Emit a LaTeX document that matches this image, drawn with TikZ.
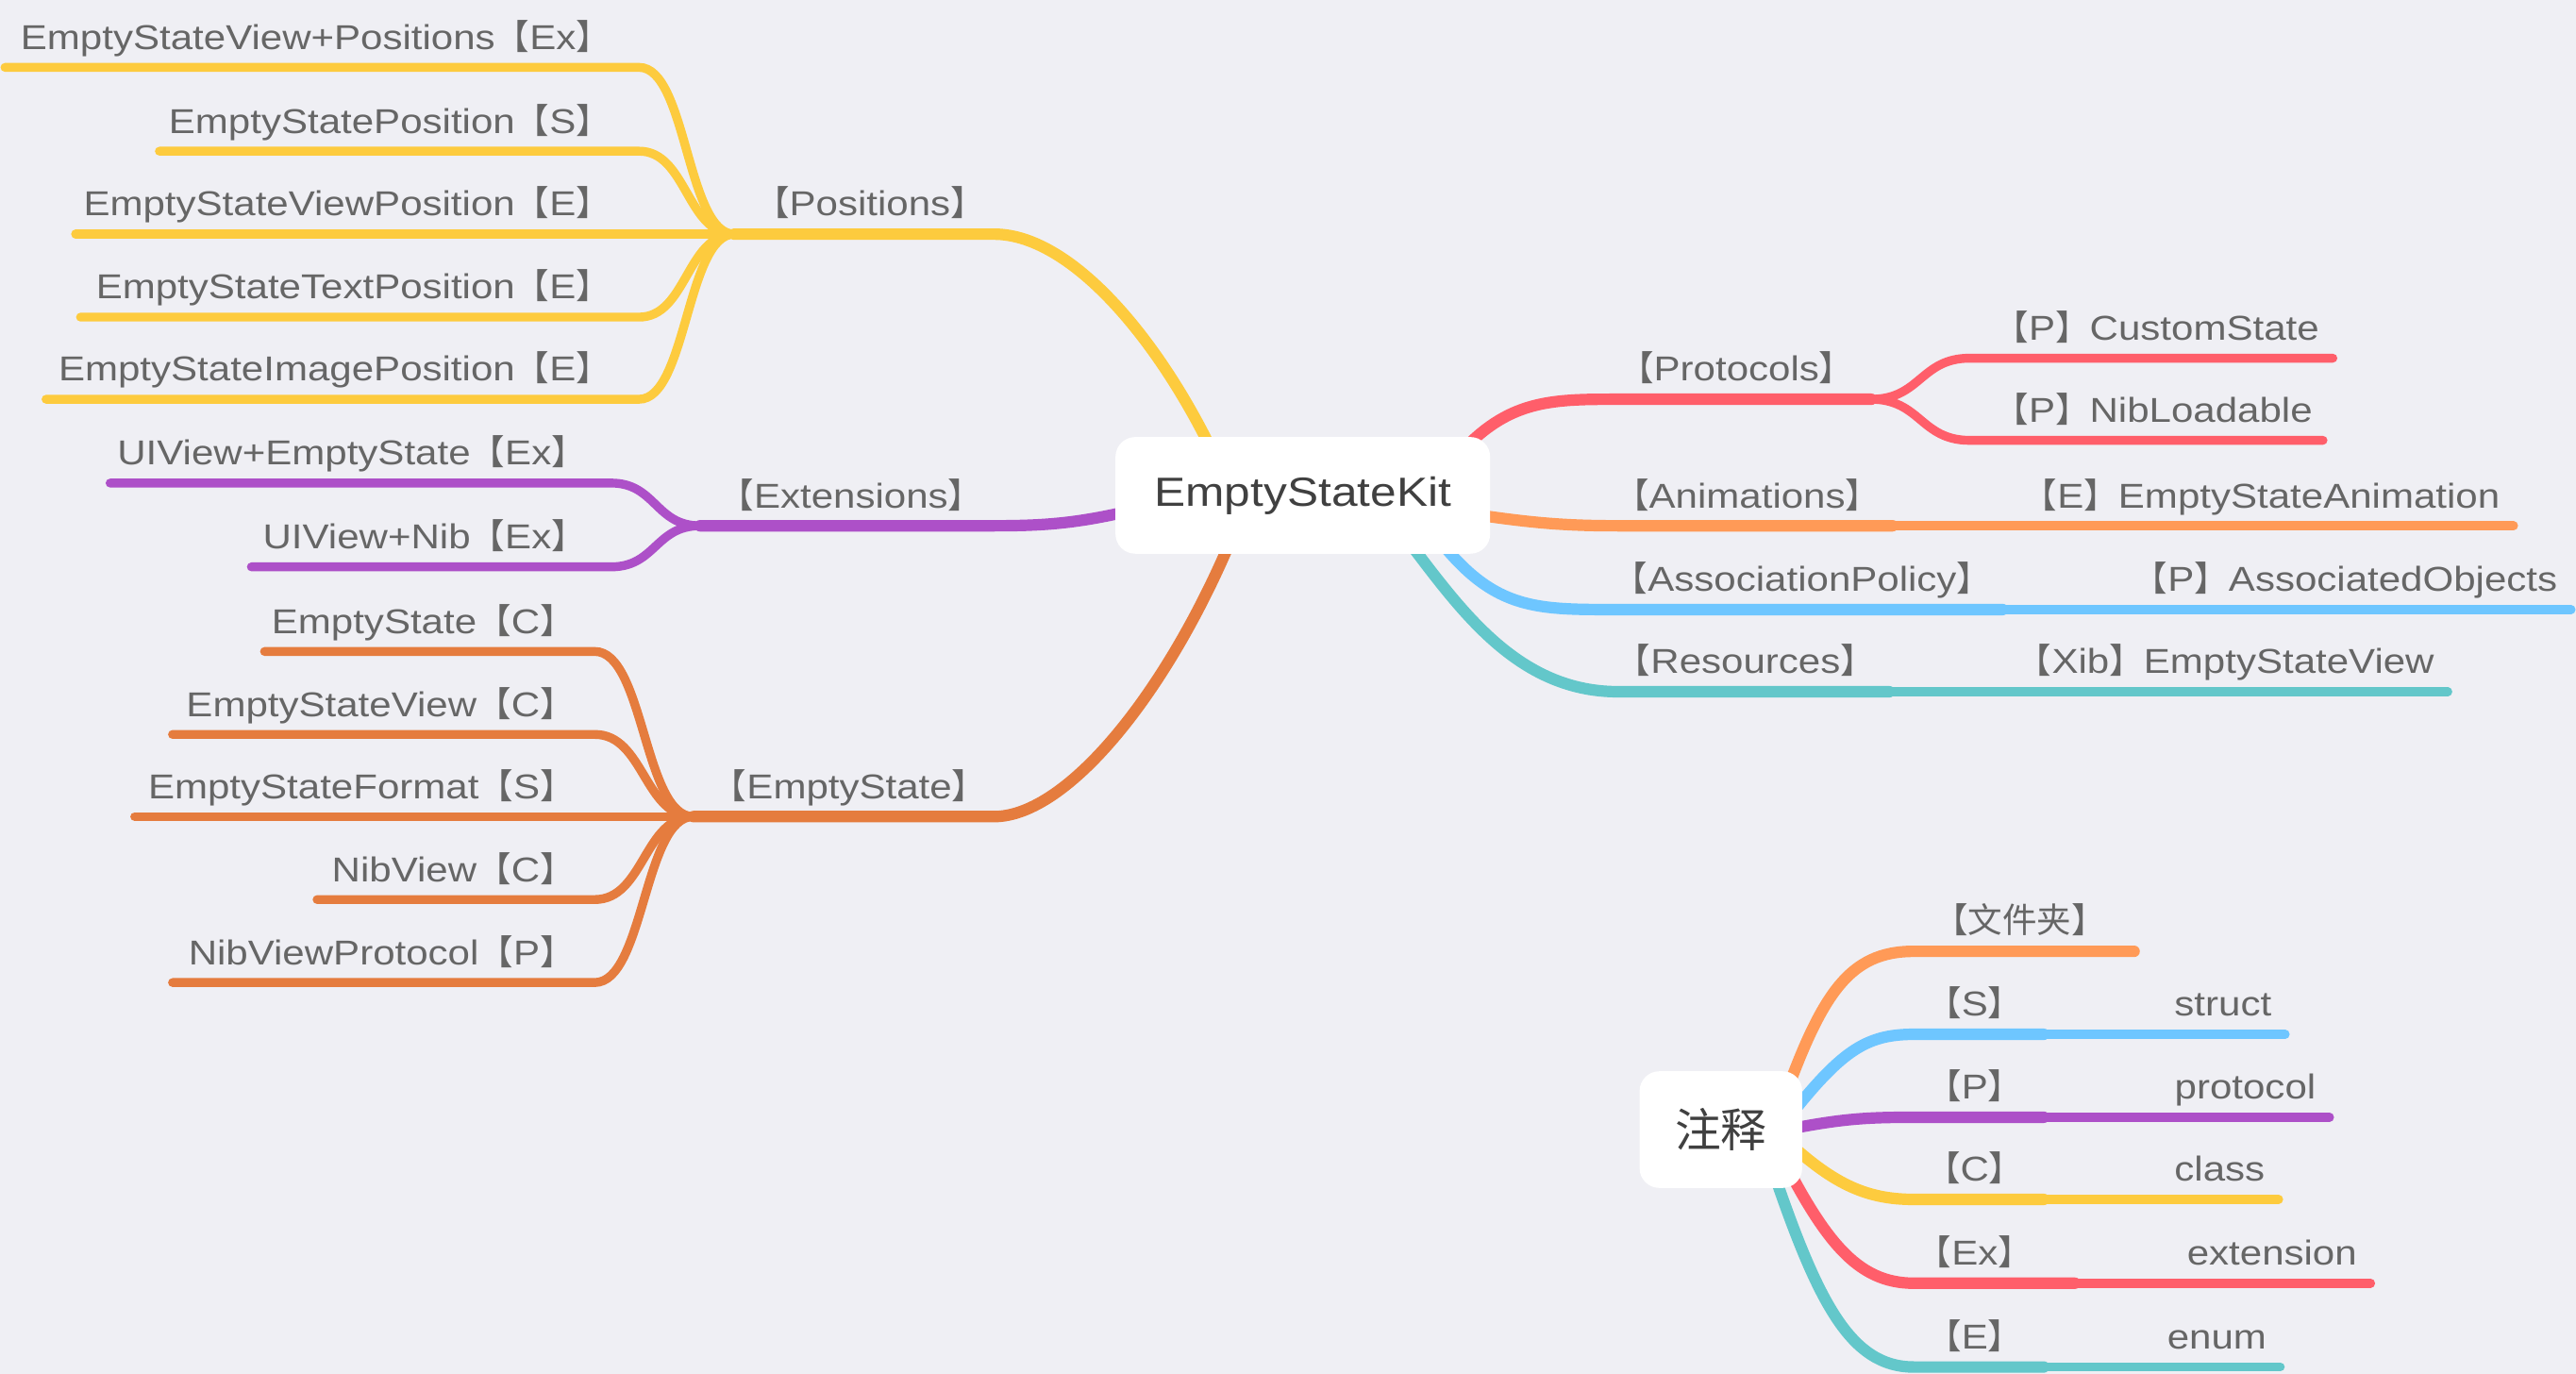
\documentclass[tikz,border=0pt]{standalone}
\usepackage{fontspec}
\setmainfont{Liberation Sans}[FakeStretch=1.15]
\newfontfamily\cjk{Noto Sans CJK SC}
\newcommand{\lbk}{{\cjk 【}}
\newcommand{\rbk}{{\cjk 】}}
\definecolor{bgc}{RGB}{239,239,244}
\definecolor{labgray}{RGB}{102,102,102}
\definecolor{maingray}{RGB}{64,64,64}
\definecolor{cY}{RGB}{253,203,62}
\definecolor{cPu}{RGB}{173,80,200}
\definecolor{cO}{RGB}{229,124,62}
\definecolor{cR}{RGB}{255,94,106}
\definecolor{cLO}{RGB}{255,154,87}
\definecolor{cB}{RGB}{110,198,255}
\definecolor{cT}{RGB}{99,199,202}
\pgfdeclarelayer{backlayer}
\pgfdeclarelayer{linelayer}
\pgfsetlayers{backlayer,linelayer,main}
\begin{document}
\begin{tikzpicture}[x=0.5pt,y=-0.5pt,
  lab/.style={font=\fontsize{10.5}{12}\selectfont, text=labgray, inner sep=0pt},
  childline/.style={line width=2.7pt, line cap=round},
  parentline/.style={line width=3.5pt, line cap=round},
  topic/.style={fill=white, rounded corners=6pt, inner sep=0pt, text=maingray}]
\begin{pgfonlayer}{backlayer}
\fill[bgc] (0,0) rectangle (1568,836);
\end{pgfonlayer}
\useasboundingbox (0,0) rectangle (1568,836);

% central topics
\node[topic, minimum width=114pt, minimum height=35.5pt, font=\fontsize{12.4}{14}\selectfont] (kit) at (793,301.5) {EmptyStateKit};
\node[topic, minimum width=49.5pt, minimum height=35.5pt, font=\fontsize{14}{16}\selectfont\cjk] (note) at (1047.5,687.5) {注释};

% coordinates
\coordinate (Ys) at (745,290); \coordinate (Yf) at (447,142.5);
\coordinate (Ps) at (700,308); \coordinate (Pf) at (426,320);
\coordinate (Os) at (752,322); \coordinate (Of) at (422,497);
\coordinate (Rs) at (885,280); \coordinate (Rf) at (1139,243);
\coordinate (As) at (890,312); \coordinate (Af) at (1152,320);
\coordinate (Bs) at (868,318); \coordinate (Bf) at (1219,371);
\coordinate (Ts) at (850,320); \coordinate (Tf) at (1150,421);

% labels left yellow
\node[lab, anchor=base east] (y1) at (372,30) {EmptyStateView+Positions\lbk Ex\rbk};
\node[lab, anchor=base east] (y2) at (372,81) {EmptyStatePosition\lbk S\rbk};
\node[lab, anchor=base east] (y3) at (372,131.5) {EmptyStateViewPosition\lbk E\rbk};
\node[lab, anchor=base east] (y4) at (372,182) {EmptyStateTextPosition\lbk E\rbk};
\node[lab, anchor=base east] (y5) at (372,232) {EmptyStateImagePosition\lbk E\rbk};
\node[lab, anchor=base] (lPos) at (529.5,131.5) {\lbk Positions\rbk};
% purple
\node[lab, anchor=base east] (p1) at (357,283) {UIView+EmptyState\lbk Ex\rbk};
\node[lab, anchor=base east] (p2) at (357,334) {UIView+Nib\lbk Ex\rbk};
\node[lab, anchor=base] (lExt) at (518,309) {\lbk Extensions\rbk};
% orange
\node[lab, anchor=base east] (o1) at (350,385.5) {EmptyState\lbk C\rbk};
\node[lab, anchor=base east] (o2) at (350,436) {EmptyStateView\lbk C\rbk};
\node[lab, anchor=base east] (o3) at (350,486) {EmptyStateFormat\lbk S\rbk};
\node[lab, anchor=base east] (o4) at (350,536.5) {NibView\lbk C\rbk};
\node[lab, anchor=base east] (o5) at (350,587) {NibViewProtocol\lbk P\rbk};
\node[lab, anchor=base] (lES) at (517,486) {\lbk EmptyState\rbk};
% right
\node[lab, anchor=base] (lPro) at (1057,232) {\lbk Protocols\rbk};
\node[lab, anchor=base east] (r1) at (1412,207) {\lbk P\rbk CustomState};
\node[lab, anchor=base east] (r2) at (1408,257) {\lbk P\rbk NibLoadable};
\node[lab, anchor=base] (lAni) at (1063.5,309) {\lbk Animations\rbk};
\node[lab, anchor=base east] (a1) at (1522,309) {\lbk E\rbk EmptyStateAnimation};
\node[lab, anchor=base] (lAss) at (1097,360) {\lbk AssociationPolicy\rbk};
\node[lab, anchor=base east] (b1) at (1557,360) {\lbk P\rbk AssociatedObjects};
\node[lab, anchor=base] (lRes) at (1062.5,410) {\lbk Resources\rbk};
\node[lab, anchor=base east] (t1) at (1482,410) {\lbk Xib\rbk EmptyStateView};
% legend
\node[lab, anchor=base] (nF) at (1229.5,568) {\lbk{\cjk 文件夹}\rbk};
\node[lab, anchor=base] (nS) at (1202,618.5) {\lbk S\rbk};
\node[lab, anchor=base east] (nS2) at (1383,618.5) {struct};
\node[lab, anchor=base] (nP) at (1202,669) {\lbk P\rbk};
\node[lab, anchor=base east] (nP2) at (1410,669) {protocol};
\node[lab, anchor=base] (nC) at (1202,719) {\lbk C\rbk};
\node[lab, anchor=base east] (nC2) at (1379,719) {class};
\node[lab, anchor=base] (nX) at (1202,770) {\lbk Ex\rbk};
\node[lab, anchor=base east] (nX2) at (1435,770) {extension};
\node[lab, anchor=base] (nE) at (1202,821) {\lbk E\rbk};
\node[lab, anchor=base east] (nE2) at (1380,821) {enum};

\begin{pgfonlayer}{linelayer}
% yellow
\draw[parentline, cY] (Ys) .. controls (712,215) and (655,142.5) .. (605,142.5) -- (Yf);
\draw[childline, cY] (Yf) .. controls (418,142.5) and (418,41) .. (389,41) -- (3,41);
\draw[childline, cY] (Yf) .. controls (418,142.5) and (418,92) .. (389,92) -- (97,92);
\draw[childline, cY] (Yf) -- (46,142.5);
\draw[childline, cY] (Yf) .. controls (418,142.5) and (418,193) .. (389,193) -- (49,193);
\draw[childline, cY] (Yf) .. controls (418,142.5) and (418,243) .. (389,243) -- (28,243);
% purple
\draw[parentline, cPu] (Ps) .. controls (660,318) and (640,320) .. (605,320) -- (Pf);
\draw[childline, cPu] (Pf) .. controls (399,320) and (399,294) .. (372,294) -- (67,294);
\draw[childline, cPu] (Pf) .. controls (399,320) and (399,345) .. (372,345) -- (153,345);
% orange
\draw[parentline, cO] (Os) .. controls (712,420) and (650,497) .. (605,497) -- (Of);
\draw[childline, cO] (Of) .. controls (392,497) and (392,396.5) .. (362,396.5) -- (161,396.5);
\draw[childline, cO] (Of) .. controls (392,497) and (392,447) .. (362,447) -- (105,447);
\draw[childline, cO] (Of) -- (82,497);
\draw[childline, cO] (Of) .. controls (392,497) and (392,547.5) .. (362,547.5) -- (193,547.5);
\draw[childline, cO] (Of) .. controls (392,497) and (392,598) .. (362,598) -- (105,598);
% red
\draw[parentline, cR] (Rs) .. controls (915,245) and (940,243) .. (980,243) -- (Rf);
\draw[childline, cR] (Rf) .. controls (1169,243) and (1169,218) .. (1199,218) -- (1420,218);
\draw[childline, cR] (Rf) .. controls (1169,243) and (1169,268) .. (1199,268) -- (1414,268);
% light orange
\draw[parentline, cLO] (As) .. controls (930,318) and (950,320) .. (985,320) -- (Af);
\draw[childline, cLO] (Af) -- (1530,320);
% blue
\draw[parentline, cB] (Bs) .. controls (905,370) and (930,371) .. (980,371) -- (Bf);
\draw[childline, cB] (Bf) -- (1565,371);
% teal
\draw[parentline, cT] (Ts) .. controls (885,365) and (920,421) .. (985,421) -- (Tf);
\draw[childline, cT] (Tf) -- (1490,421);
% legend
\draw[parentline, cLO] (1082,680) .. controls (1108,605) and (1125,579) .. (1165,579) -- (1299,579);
\draw[parentline, cB] (1085,685) .. controls (1120,640) and (1135,629.5) .. (1165,629.5) -- (1244,629.5);
\draw[childline, cB] (1244,629.5) -- (1391,629.5);
\draw[parentline, cPu] (1085,688) .. controls (1120,681) and (1135,680) .. (1165,680) -- (1244,680);
\draw[childline, cPu] (1244,680) -- (1418,680);
\draw[parentline, cY] (1085,692) .. controls (1115,720) and (1135,730) .. (1165,730) -- (1244,730);
\draw[childline, cY] (1244,730) -- (1387,730);
\draw[parentline, cR] (1080,695) .. controls (1110,755) and (1130,781) .. (1165,781) -- (1263,781);
\draw[childline, cR] (1263,781) -- (1443,781);
\draw[parentline, cT] (1075,700) .. controls (1105,790) and (1125,832) .. (1165,832) -- (1244,832);
\draw[childline, cT] (1244,832) -- (1388,832);
\end{pgfonlayer}
\end{tikzpicture}
\end{document}
